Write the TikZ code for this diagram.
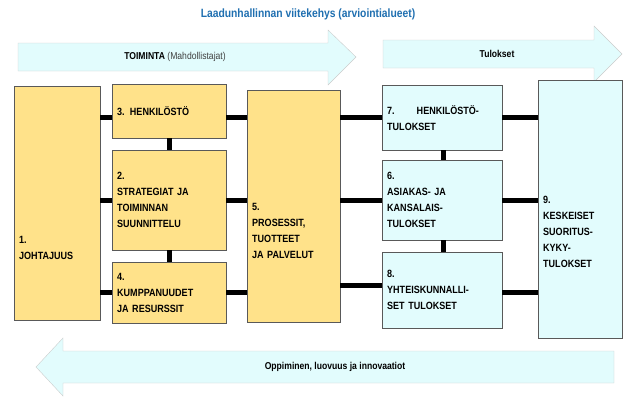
\documentclass[tikz,border=0pt]{standalone}
\usepackage{fontspec}
\setmainfont{Liberation Sans}[FakeStretch=0.86]
\usetikzlibrary{shapes.arrows}
\definecolor{boxyellow}{HTML}{FFE28A}
\definecolor{boxcyan}{HTML}{E2FCFD}
\definecolor{titleblue}{HTML}{1F6FB0}
\begin{document}
\begin{tikzpicture}[x=1pt,y=-1pt,
    area/.style={draw=gray!70!black, fill=#1, anchor=north west, align=left, inner sep=5pt, text=black, font=\bfseries\fontsize{10.5}{16}\selectfont},
    enabler/.style={area=boxyellow},
    result/.style={area=boxcyan},
    link/.style={line width=5pt, black},
    flow/.style={fill=boxcyan, draw=gray!40}
]
\useasboundingbox (0,0) rectangle (632,400);

% Title
\node[font=\fontsize{12}{14}\selectfont\bfseries, text=titleblue] (title) at (308,14) {Laadunhallinnan viitekehys (arviointialueet)};

% Arrows
\draw[flow] (18,43) -- (328,43) -- (328,30) -- (356,57) -- (328,85) -- (328,71) -- (18,71) -- cycle;
\node[font=\fontsize{10}{12}\selectfont] (toim) at (175,57) {\textbf{TOIMINTA} \textcolor{gray!50!black}{(Mahdollistajat)}};
\draw[flow] (383,40) -- (594,40) -- (594,26) -- (622,54) -- (594,82) -- (594,68) -- (383,68) -- cycle;
\node[font=\fontsize{10}{12}\selectfont\bfseries] (tul) at (497,54) {Tulokset};
\draw[flow] (614,351) -- (63,351) -- (63,338) -- (36,367) -- (63,396) -- (63,383) -- (614,383) -- cycle;
\node[font=\fontsize{10}{12}\selectfont\bfseries] (opp) at (335,367) {Oppiminen, luovuus ja innovaatiot};

% Enablers
\node[enabler, minimum width=86, minimum height=234, text width=76] (b1) at (14,86) {\\[80pt]1.\\JOHTAJUUS};
\node[enabler, minimum width=114, minimum height=54, text width=104] (b3) at (112,84) {3. HENKILÖSTÖ};
\node[enabler, minimum width=114, minimum height=100, text width=104] (b2) at (112,150) {2.\\STRATEGIAT JA\\TOIMINNAN\\SUUNNITTELU};
\node[enabler, minimum width=114, minimum height=61, text width=104] (b4) at (112,262) {4.\\KUMPPANUUDET\\JA RESURSSIT};
\node[enabler, minimum width=93, minimum height=232, text width=83] (b5) at (247,90) {\\[40pt]5.\\PROSESSIT,\\TUOTTEET\\JA PALVELUT};

% Results
\node[result, minimum width=120, minimum height=65, text width=110] (b7) at (382,85) {7.\hspace{22pt}HENKILÖSTÖ-\\TULOKSET};
\node[result, minimum width=120, minimum height=80, text width=110] (b6) at (382,160) {6.\\ASIAKAS- JA\\KANSALAIS-\\TULOKSET};
\node[result, minimum width=120, minimum height=76, text width=110] (b8) at (382,252) {8.\\YHTEISKUNNALLI-\\SET TULOKSET};
\node[result, minimum width=84, minimum height=258, text width=74] (b9) at (538,80) {\\[36pt]9.\\KESKEISET\\SUORITUS-\\KYKY-\\TULOKSET};

% Links
\draw[link] (b1.east |- 0,117) -- (b3.west |- 0,117);
\draw[link] (b1.east |- 0,200) -- (b2.west |- 0,200);
\draw[link] (b1.east |- 0,292) -- (b4.west |- 0,292);
\draw[link] (b3.east |- 0,117) -- (b5.west |- 0,117);
\draw[link] (b2.east |- 0,200) -- (b5.west |- 0,200);
\draw[link] (b4.east |- 0,292) -- (b5.west |- 0,292);
\draw[link] (b3.south) -- (b2.north);
\draw[link] (b2.south) -- (b4.north);
\draw[link] (b5.east |- 0,117) -- (b7.west |- 0,117);
\draw[link] (b5.east |- 0,200) -- (b6.west |- 0,200);
\draw[link] (b5.east |- 0,285) -- (b8.west |- 0,285);
\draw[link] (b7.east |- 0,117) -- (b9.west |- 0,117);
\draw[link] (b6.east |- 0,200) -- (b9.west |- 0,200);
\draw[link] (b8.east |- 0,292) -- (b9.west |- 0,292);
\draw[link] (b7.south -| 443,0) -- (b6.north -| 443,0);
\draw[link] (b6.south -| 443,0) -- (b8.north -| 443,0);
\end{tikzpicture}
\end{document}
